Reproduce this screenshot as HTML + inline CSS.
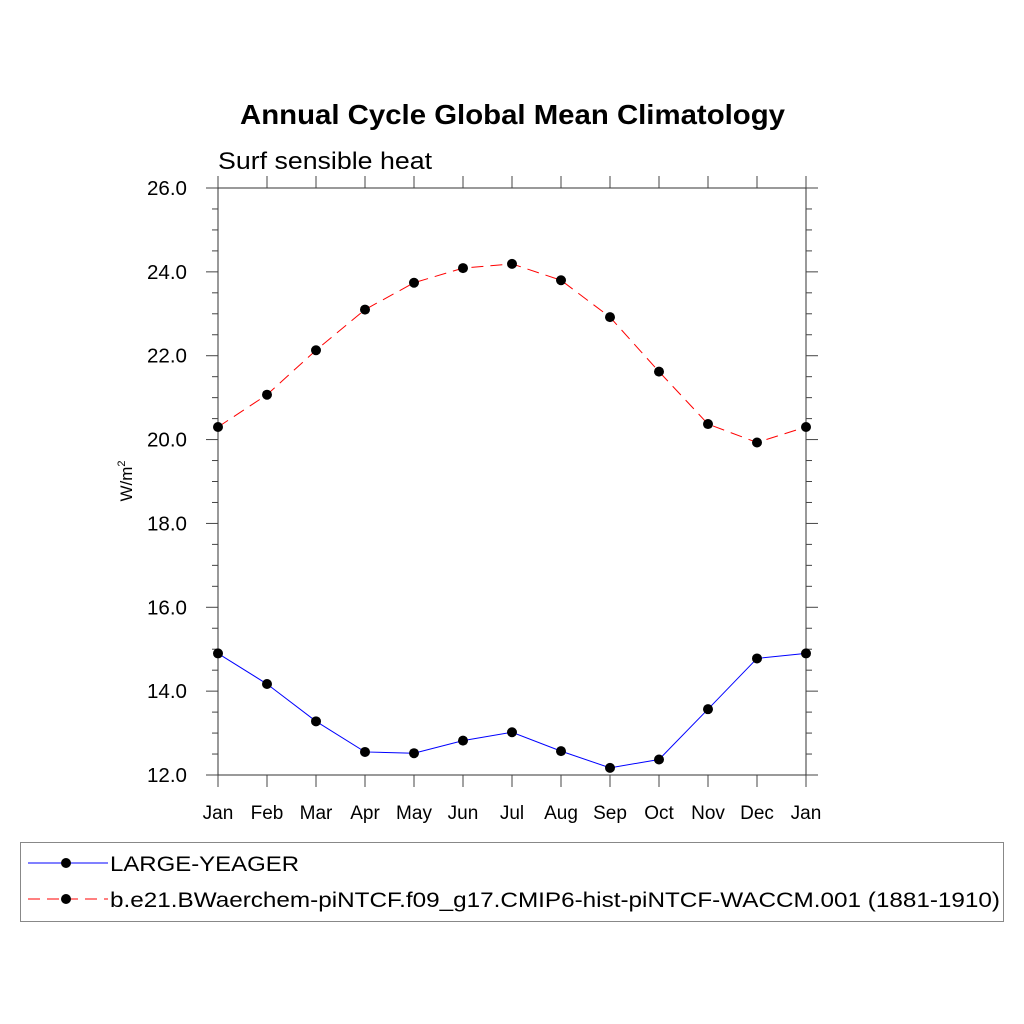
<!DOCTYPE html>
<html><head><meta charset="utf-8"><style>
body{margin:0;background:#fff;}
svg{display:block;font-family:"Liberation Sans",sans-serif;}
</style></head><body>
<svg id="chart" width="1024" height="1024">
<text x="240" y="124" textLength="545" lengthAdjust="spacingAndGlyphs" font-size="28" font-weight="bold">Annual Cycle Global Mean Climatology</text>
<text x="218" y="169" textLength="214" lengthAdjust="spacingAndGlyphs" font-size="24">Surf sensible heat</text>
<text transform="translate(132,481) rotate(-90)" text-anchor="middle" font-size="17">W/m<tspan font-size="11" dy="-7">2</tspan></text>
<g id="axes"></g>
<g id="series"></g>
<rect x="20.5" y="842.5" width="983" height="79" fill="none" stroke="#888" stroke-width="1"/>
<g>
<line x1="28" y1="863" x2="108" y2="863" stroke="#00f" stroke-width="1"/>
<circle cx="66" cy="863" r="5" fill="#000"/>
<text x="110" y="871" font-size="21" textLength="189" lengthAdjust="spacingAndGlyphs">LARGE-YEAGER</text></g>
<g>
<line x1="28" y1="899" x2="108" y2="899" stroke="#f00" stroke-width="1" stroke-dasharray="12,7"/>
<circle cx="66" cy="899" r="5" fill="#000"/>
<text x="110" y="907" font-size="21" textLength="890" lengthAdjust="spacingAndGlyphs">b.e21.BWaerchem-piNTCF.f09_g17.CMIP6-hist-piNTCF-WACCM.001 (1881-1910)</text></g>
</svg>
<script>
const months=["Jan","Feb","Mar","Apr","May","Jun","Jul","Aug","Sep","Oct","Nov","Dec","Jan"];
const yTicks=[12,14,16,18,20,22,24,26];
const largeYeager=[14.9,14.17,13.28,12.55,12.52,12.82,13.02,12.57,12.17,12.37,13.57,14.78,14.9];
const waccm=[20.3,21.07,22.13,23.1,23.74,24.09,24.19,23.8,22.92,21.62,20.37,19.93,20.3];
const X0=218,X1=806,Y0=775,Y1=188,YMIN=12,YMAX=26;
const xs=i=>X0+i*(X1-X0)/(months.length-1);
const ys=v=>Y0-(v-YMIN)/(YMAX-YMIN)*(Y0-Y1);
const NS="http://www.w3.org/2000/svg";
function mk(t,a,p){const e=document.createElementNS(NS,t);for(const k in a)e.setAttribute(k,a[k]);p.appendChild(e);return e;}
const ax=document.getElementById('axes');
const fr=mk('rect',{x:X0,y:Y1,width:X1-X0,height:Y0-Y1,fill:'none',stroke:'#333','stroke-width':1},ax);


for(let v=YMIN;v<=YMAX+1e-9;v+=0.5){
  const y=ys(v),maj=Math.abs(v-Math.round(v/2)*2)<1e-9,L=maj?12:6;
  mk('line',{x1:X0,y1:y,x2:X0-L,y2:y,stroke:'#444'},ax);
  mk('line',{x1:X1,y1:y,x2:X1+L,y2:y,stroke:'#444'},ax);
}
yTicks.forEach(v=>{const t=mk('text',{x:X0-31,y:ys(v)+7,'text-anchor':'end','font-size':20,textLength:40,lengthAdjust:'spacingAndGlyphs'},ax);t.textContent=v.toFixed(1);

});
months.forEach((m,i)=>{const x=xs(i);
  mk('line',{x1:x,y1:Y0,x2:x,y2:Y0+12,stroke:'#444'},ax);
  mk('line',{x1:x,y1:Y1,x2:x,y2:Y1-12,stroke:'#444'},ax);
  const t=mk('text',{x:x,y:819,'text-anchor':'middle','font-size':19},ax);t.textContent=m;
  
  });
const sg=document.getElementById('series');
function series(vals,color,dash,name){
  const p=mk('polyline',{points:vals.map((v,i)=>xs(i)+','+ys(v)).join(' '),fill:'none',stroke:color,'stroke-width':1,'stroke-dasharray':dash},sg);
  
  
  vals.forEach((v,i)=>{const c=mk('circle',{cx:xs(i),cy:ys(v),r:5,fill:'#000'},sg);
    
    });
}
series(largeYeager,'#00f','none','large-yeager');
series(waccm,'#f00','12,7','waccm');
</script>
</body></html>
